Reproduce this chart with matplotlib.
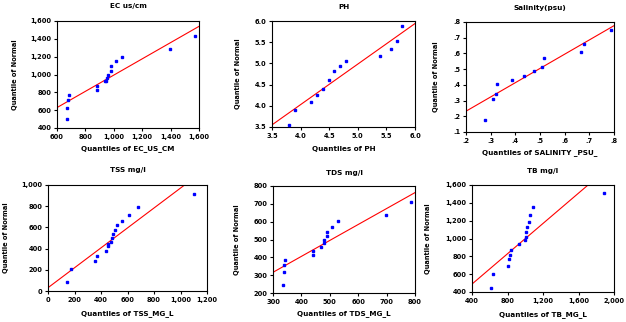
import numpy as np
import matplotlib
matplotlib.use("Agg")
import matplotlib.pyplot as plt
from matplotlib.ticker import FuncFormatter

plt.rcParams['font.family'] = 'DejaVu Sans'
plt.rcParams['font.weight'] = 'bold'

W, H = 626, 322

# observed quantiles (x) against normal quantiles (y), one pair per parameter
ec_x = [670, 672, 679, 686, 880, 885, 941, 945, 950, 957, 978, 980, 1013, 1058, 1394, 1570]
ec_y = [498, 629, 716, 772, 825, 874, 923, 923, 957, 998, 1043, 1092, 1148, 1201, 1284, 1430]

ph_x = [3.79, 3.90, 4.18, 4.29, 4.39, 4.50, 4.58, 4.69, 4.79, 5.38, 5.58, 5.68, 5.78]
ph_y = [3.555, 3.91, 4.10, 4.25, 4.39, 4.60, 4.82, 4.93, 5.05, 5.18, 5.33, 5.53, 5.88]

sal_x = [.277, .308, .320, .326, .387, .437, .477, .508, .518, .667, .678, .788]
sal_y = [.175, .309, .343, .407, .433, .456, .488, .514, .574, .612, .663, .751]

tss_x = [146, 176, 352, 370, 438, 450, 455, 473, 480, 488, 506, 521, 561, 614, 679, 1104]
tss_y = [82, 208, 283, 333, 377, 425, 440, 462, 497, 541, 575, 620, 664, 717, 789, 918]

tds_x = [336, 338, 340, 342, 440, 442, 469, 478, 481, 489, 489, 508, 528, 698, 787]
tds_y = [247, 319, 357, 384, 411, 435, 457, 479, 500, 520, 543, 569, 601, 640, 709]

tb_x = [613, 632, 807, 819, 826, 837, 927, 998, 1009, 1009, 1020, 1043, 1050, 1092, 1884]
tb_y = [445, 605, 694, 765, 817, 873, 933, 978, 1022, 1075, 1134, 1190, 1261, 1350, 1514]

# reference lines: intercept, slope
ec_line = (82.4, 0.911)
ph_line = (0.204, 0.956)
sal_line = (0.051, 0.907)
tss_line = (31.0, 0.94)
tds_line = (47.8, 0.894)
tb_line = (149.2, 0.8496)

titles = ["EC us/cm", "PH", "Salinity(psu)", "TSS mg/l", "TDS mg/l", "TB mg/l"]
xlabels = ["Quantiles of EC_US_CM", "Quantiles of PH", "Quantiles of SALINITY _PSU_",
           "Quantiles of TSS_MG_L", "Quantiles of TDS_MG_L", "Quantiles of TB_MG_L"]


def comma(v, pos):
    return "{:,.0f}".format(v)


def nolead(v, pos):
    return "{:.1f}".format(v).lstrip("0")


def onedec(v, pos):
    return "{:.1f}".format(v)


# panel boxes in pixels: left, right, top, bottom, plus title / xlabel / ylabel spots
panels = [
    dict(box=(57, 199, 21, 128), ty=6, xly=149, ylx=15,
         x=ec_x, y=ec_y, line=ec_line, xlim=(600, 1600), ylim=(400, 1600),
         xt=np.arange(600, 1601, 200), yt=np.arange(400, 1601, 200), fmt=comma),
    dict(box=(272, 415, 21, 127), ty=7, xly=149, ylx=238,
         x=ph_x, y=ph_y, line=ph_line, xlim=(3.5, 6.0), ylim=(3.5, 6.0),
         xt=np.arange(3.5, 6.01, 0.5), yt=np.arange(3.5, 6.01, 0.5), fmt=onedec),
    dict(box=(466, 614, 22, 132), ty=8, xly=153, ylx=436,
         x=sal_x, y=sal_y, line=sal_line, xlim=(0.2, 0.8), ylim=(0.1, 0.8),
         xt=np.arange(0.2, 0.81, 0.1), yt=np.arange(0.1, 0.81, 0.1), fmt=nolead),
    dict(box=(48, 207, 185, 291), ty=170, xly=314, ylx=6,
         x=tss_x, y=tss_y, line=tss_line, xlim=(0, 1200), ylim=(0, 1000),
         xt=np.arange(0, 1201, 200), yt=np.arange(0, 1001, 200), fmt=comma),
    dict(box=(273, 415, 186, 293), ty=173, xly=314, ylx=237,
         x=tds_x, y=tds_y, line=tds_line, xlim=(300, 800), ylim=(200, 800),
         xt=np.arange(300, 801, 100), yt=np.arange(200, 801, 100), fmt=comma),
    dict(box=(472, 614, 185, 292), ty=171, xly=315, ylx=428,
         x=tb_x, y=tb_y, line=tb_line, xlim=(400, 2000), ylim=(400, 1600),
         xt=np.arange(400, 2001, 400), yt=np.arange(400, 1601, 200), fmt=comma),
]

fig = plt.figure(figsize=(W / 100, H / 100), dpi=100)
fig.patch.set_facecolor("white")

for i, p in enumerate(panels):
    l, r, t, b = p["box"]
    ax = fig.add_axes([l / W, 1 - b / H, (r - l) / W, (b - t) / H])
    a, k = p["line"]
    lx = np.array(p["xlim"])
    ax.plot(lx, a + k * lx, color="#ff0000", lw=0.8, zorder=2)
    ax.plot(p["x"], p["y"], linestyle="none", marker="s", ms=1.6,
            mfc="#0000ff", mec="#0000ff", zorder=3)
    ax.set_xlim(p["xlim"])
    ax.set_ylim(p["ylim"])
    ax.set_xticks(p["xt"])
    ax.set_yticks(p["yt"])
    ax.xaxis.set_major_formatter(FuncFormatter(p["fmt"]))
    ax.yaxis.set_major_formatter(FuncFormatter(p["fmt"]))
    ax.tick_params(direction="out", length=2.5, width=0.8, labelsize=4.8, pad=1.5)
    for s in ax.spines.values():
        s.set_linewidth(0.8)
    for lab in ax.get_xticklabels() + ax.get_yticklabels():
        lab.set_fontweight("heavy")
    cx = (l + r) / 2
    fig.text(cx / W, 1 - p["ty"] / H, titles[i], ha="center", va="center",
             fontsize=5.2, fontweight="heavy")
    fig.text(cx / W, 1 - p["xly"] / H, xlabels[i], ha="center", va="center",
             fontsize=5.2, fontweight="heavy")
    fig.text(p["ylx"] / W, 1 - ((t + b) / 2) / H, "Quantile of Normal", ha="center",
             va="center", rotation=90, fontsize=4.8, fontweight="heavy")

fig.savefig("out.png", dpi=100, facecolor="white")
